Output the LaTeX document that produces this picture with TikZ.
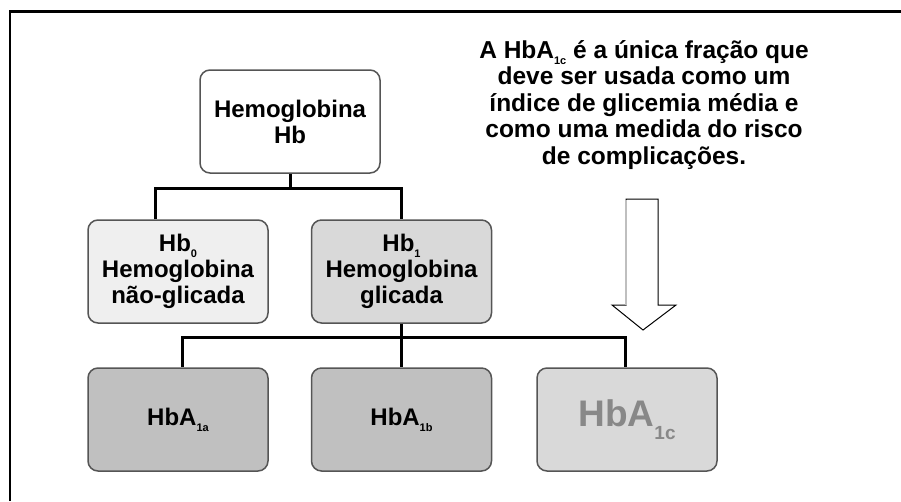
\documentclass[tikz,border=0pt]{standalone}
\usepackage{fontspec}
\setmainfont{Liberation Sans}
\usetikzlibrary{positioning, calc}
\definecolor{boxline}{HTML}{555555}
\definecolor{hbzero}{HTML}{EFEFEF}
\definecolor{hbone}{HTML}{D9D9D9}
\definecolor{hbadark}{HTML}{C0C0C0}
\definecolor{hbcgray}{HTML}{888888}
\newcommand{\hbsub}[1]{\raisebox{-6pt}{\fontsize{11}{11}\selectfont #1}}

\begin{document}
\begin{tikzpicture}[x=1pt, y=-1pt,
    hbbox/.style={draw=boxline, line width=1.5pt, rounded corners=10pt,
      minimum width=180pt, minimum height=103pt, inner sep=0pt,
      align=center, font=\fontsize{24}{26}\selectfont\bfseries},
    link/.style={line width=3pt},
    notetext/.style={align=center, inner sep=0pt,
      font=\fontsize{24.5}{26.5}\selectfont\bfseries}]
    \useasboundingbox (0,0) rectangle (901,501);
    % Frame
    \draw[line width=2.5pt] (10,501) -- (10,11.5) -- (901,11.5);
    % Tree of hemoglobin fractions
    \node[hbbox, fill=white] (hb) at (290,121.5) {Hemoglobina\\Hb};
    \node[hbbox, fill=hbzero] (hb0) at (178,271.5) {Hb\hbsub{0}\\Hemoglobina\\não-glicada};
    \node[hbbox, fill=hbone, right=42pt of hb0] (hb1) {Hb\hbsub{1}\\Hemoglobina\\glicada};
    \node[hbbox, fill=hbadark] (hba) at (178,419.5) {HbA\hbsub{1a}};
    \node[hbbox, fill=hbadark, right=42pt of hba] (hbb) {HbA\hbsub{1b}};
    \node[hbbox, fill=hbone, right=44pt of hbb, text=hbcgray] (hbc)
      {\fontsize{37}{40}\selectfont HbA\raisebox{-13pt}{\fontsize{19}{19}\selectfont 1c}};
    % Connectors
    \coordinate (split1) at ($(hb.south)+(0,15)$);
    \draw[link] (hb.south) -- (split1);
    \draw[link] ([xshift=-23pt]hb0.north) |- (split1) -| (hb1.north);
    \coordinate (split2) at ($(hb1.south)+(0,14)$);
    \draw[link] (hb1.south) -- (hbb.north);
    \draw[link] ([xshift=4pt]hba.north) |- (split2) -| ([xshift=-2pt]hbc.north);
    % Note and hollow arrow
    \node[notetext] (note) at (644,105) {A HbA\hbsub{1c} é a única fração que\\deve ser usada como um\\índice de glicemia média e\\como uma medida do risco\\de complicações.};
    \draw[line width=1pt] (626,199) -- (658,199) -- (658,305) -- (676,305)
      -- (643,330) -- (612,305) -- (626,305) -- cycle;
    \draw[gray!50, line width=1.5pt] (626,200) -- (626,305);
\end{tikzpicture}
\end{document}
